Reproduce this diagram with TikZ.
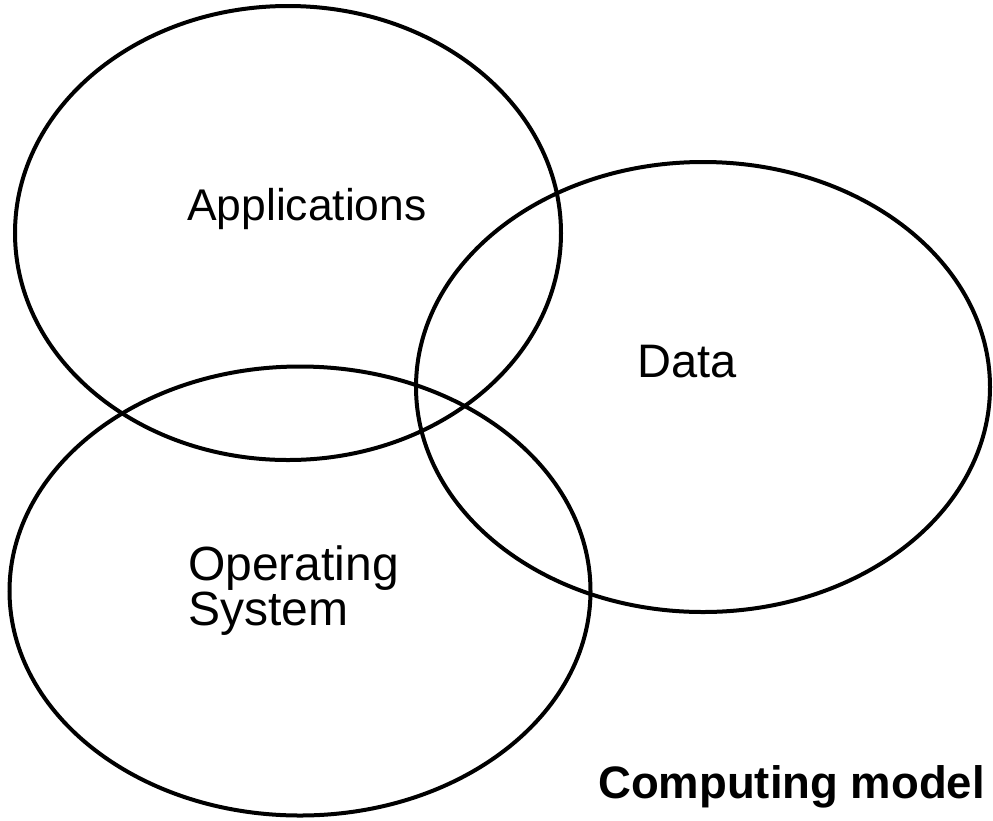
\documentclass[tikz,border=0pt]{standalone}
\usepackage{fontspec}
\setmainfont{Liberation Sans}
\usetikzlibrary{shapes.geometric}
\begin{document}
\begin{tikzpicture}[x=1pt,y=-1pt,
  set/.style={ellipse,draw=black,line width=4pt,inner sep=0pt},
  label/.style={inner sep=0pt,anchor=base west,font=\fontsize{#1}{#1}\selectfont},
  title/.style={inner sep=0pt,anchor=base west,font=\fontsize{45.5}{46}\selectfont\bfseries}]
\useasboundingbox[fill=white] (0,0) rectangle (993,820);
% the three overlapping sets
\node[set,minimum width=546pt,minimum height=454pt] (apps) at (288,233) {};
\node[set,minimum width=574pt,minimum height=450pt] (data) at (703,387) {};
\node[set,minimum width=581pt,minimum height=449pt] (os) at (300,591) {};
% set labels
\node[label=44.4] (appslbl) at (187,220) {Applications};
\node[label=47] (datalbl) at (637,377) {Data};
\node[label=48] (oslbl1) at (188,580) {Operating};
\node[label=48] (oslbl2) at (188,625) {System};
\node[title] (caption) at (598,798) {Computing model};
\end{tikzpicture}
\end{document}
